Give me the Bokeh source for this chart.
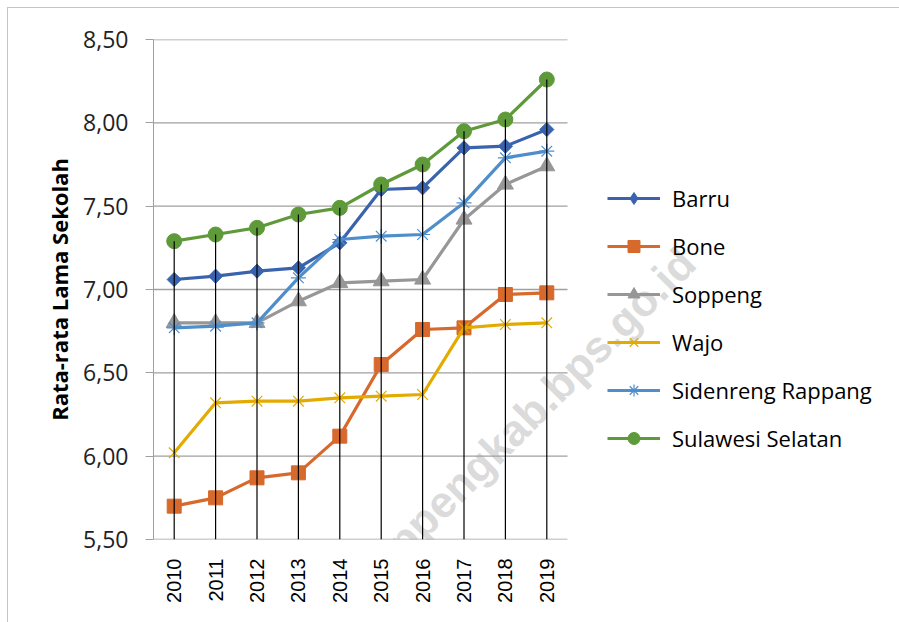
import math
from bokeh.plotting import figure
from bokeh.models import (Range1d, Legend, LegendItem, Label,
                          FixedTicker, CustomJSTickFormatter)
from bokeh.embed import file_html
from bokeh.resources import INLINE

# ---- data ----
years = ["2010", "2011", "2012", "2013", "2014", "2015", "2016", "2017", "2018", "2019"]
barru = [7.06, 7.08, 7.11, 7.13, 7.28, 7.60, 7.61, 7.85, 7.86, 7.96]
bone = [5.70, 5.75, 5.87, 5.90, 6.12, 6.55, 6.76, 6.77, 6.97, 6.98]
soppeng = [6.80, 6.80, 6.80, 6.93, 7.04, 7.05, 7.06, 7.42, 7.63, 7.74]
wajo = [6.02, 6.32, 6.33, 6.33, 6.35, 6.36, 6.37, 6.77, 6.79, 6.80]
sidrap = [6.77, 6.78, 6.80, 7.07, 7.30, 7.32, 7.33, 7.52, 7.79, 7.83]
sulsel = [7.29, 7.33, 7.37, 7.45, 7.49, 7.63, 7.75, 7.95, 8.02, 8.26]
y_ticks = [5.5, 6.0, 6.5, 7.0, 7.5, 8.0, 8.5]
y_title = "Rata-rata Lama Sekolah"
watermark = "http://soppengkab.bps.go.id"

# name, values, colour, plot marker, size, angle, legend marker
series = [
    ("Barru", barru, "#3a63ad", "square", 10, math.pi / 4, "diamond"),
    ("Bone", bone, "#d6692b", "square", 14, 0, None),
    ("Soppeng", soppeng, "#979797", "triangle", 16, 0, None),
    ("Wajo", wajo, "#e3aa00", "x", 15, 0, None),
    ("Sidenreng Rappang", sidrap, "#4f8ecb", "asterisk", 15, 0, None),
    ("Sulawesi Selatan", sulsel, "#5f9a3a", "circle", 15, 0, None),
]

# category positions on the numeric axis (centre of each category slot)
xs = [i + 0.5 for i in range(len(years))]
n_cat = len(years)
cat_px = 41.4
frame_w = 746

p = figure(x_range=Range1d(0, frame_w / cat_px),
           y_range=Range1d(y_ticks[0], y_ticks[-1]),
           frame_width=frame_w, frame_height=500,
           min_border_left=153, min_border_right=0,
           min_border_top=39, min_border_bottom=83,
           output_backend="svg", toolbar_location=None,
           background_fill_color="white", border_fill_color="white")
p.border_fill_alpha = 0
p.outline_line_color = None
p.styles = {"background": ("linear-gradient(#c4c4c4,#c4c4c4) 7px 7px / 1px 100% no-repeat, "
                           "linear-gradient(#c4c4c4,#c4c4c4) 7px 7px / 100% 1px no-repeat, white")}

# watermark
p.add_layout(Label(x=12.90, y=7.204, text=watermark, angle=math.pi / 4,
                   text_align="right", text_baseline="middle",
                   text_font="Liberation Sans", text_font_style="bold",
                   text_font_size="44px", text_color="#d6d6d6", text_alpha=0.9,
                   level="underlay"))

# grid lines (only across the category area) & axes
p.xgrid.visible = False
p.ygrid.visible = False
p.segment(x0=[0] * len(y_ticks), y0=y_ticks, x1=[n_cat] * len(y_ticks), y1=y_ticks,
          line_color="#a0a0a0", line_width=1.3)

p.yaxis.ticker = FixedTicker(ticks=y_ticks)
p.yaxis.formatter = CustomJSTickFormatter(code="return tick.toFixed(2).replace('.', ',');")
p.yaxis.axis_line_color = "#a0a0a0"
p.yaxis.major_tick_line_color = "#a0a0a0"
p.yaxis.major_tick_out = 8
p.yaxis.major_tick_in = 0
p.yaxis.minor_tick_line_color = None
p.yaxis.major_label_standoff = 17
p.yaxis.major_label_text_font = "Open Sans"
p.yaxis.major_label_text_font_size = "23px"
p.yaxis.major_label_text_color = "#222222"
p.yaxis.axis_label = y_title
p.yaxis.axis_label_text_font = "Open Sans"
p.yaxis.axis_label_text_font_style = "bold"
p.yaxis.axis_label_text_font_size = "22px"
p.yaxis.axis_label_text_color = "black"
p.yaxis.axis_label_standoff = 6

p.xaxis.ticker = FixedTicker(ticks=xs)
p.xaxis.formatter = CustomJSTickFormatter(args=dict(labels=years),
                                          code="return labels[Math.round(tick - 0.5)];")
p.xaxis.axis_line_color = None
p.xaxis.major_tick_line_color = None
p.xaxis.minor_tick_line_color = None
p.xaxis.major_tick_out = 0
p.xaxis.major_tick_in = 0
p.xaxis.major_label_orientation = math.pi / 2
p.xaxis.major_label_standoff = 19
p.xaxis.major_label_text_font = "Liberation Sans"
p.xaxis.major_label_text_font_size = "20px"
p.xaxis.major_label_text_color = "black"

items = []
for name, vals, color, marker, size, ang, leg_marker in series:
    lr = p.line(xs, vals, line_color=color, line_width=3.2)
    if marker in ("x", "asterisk"):
        sr = p.scatter(xs, vals, marker=marker, size=size, line_color=color,
                       line_width=1.2, fill_color=None)
    else:
        sr = p.scatter(xs, vals, marker=marker, size=size, angle=ang,
                       line_color=color, fill_color=color)
    leg_r = [lr, sr]
    if leg_marker is not None:
        hr = p.scatter(xs, vals, marker=leg_marker, size=16,
                       line_color=color, fill_color=color, visible=False)
        leg_r = [lr, hr]
    items.append(LegendItem(label=name, renderers=leg_r))

# drop lines from the highest value down to the axis
tops = [max(v) for v in zip(barru, bone, soppeng, wajo, sidrap, sulsel)]
p.segment(x0=xs, y0=[y_ticks[0]] * n_cat, x1=xs, y1=tops,
          line_color="black", line_width=1.2)

legend = Legend(items=items, location=(454, 86), orientation="vertical",
                glyph_width=53, glyph_height=30, label_height=20,
                spacing=18, padding=0, margin=0, label_standoff=12,
                label_text_font="Open Sans", label_text_font_size="22px",
                label_text_color="black", border_line_color=None,
                background_fill_alpha=0)
p.add_layout(legend, "center")

open("out.html", "w").write(file_html(p, INLINE))
